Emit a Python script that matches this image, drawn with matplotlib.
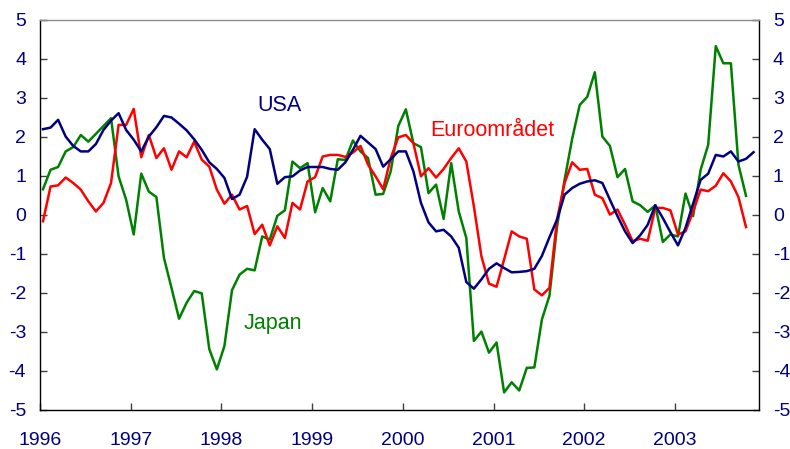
import numpy as np
import matplotlib
matplotlib.use('Agg')
import matplotlib.pyplot as plt

plt.rcParams['font.family'] = ['Liberation Sans', 'DejaVu Sans']
plt.rcParams['axes.unicode_minus'] = False

# monthly series from jan 1996
usa = [2.20, 2.24, 2.44, 2.01, 1.77, 1.63, 1.63, 1.82, 2.18, 2.42, 2.61, 2.18,
       1.93, 1.63, 2.01, 2.25, 2.54, 2.50, 2.34, 2.17, 1.94, 1.67, 1.35, 1.18,
       0.95, 0.41, 0.52, 0.98, 2.20, 1.93, 1.69, 0.80, 0.97, 0.99, 1.14, 1.23,
       1.23, 1.23, 1.18, 1.16, 1.35, 1.67, 2.03, 1.86, 1.69, 1.24, 1.43, 1.63,
       1.63, 1.12, 0.31, -0.19, -0.42, -0.38, -0.55, -0.84, -1.72, -1.89, -1.65, -1.38,
       -1.24, -1.36, -1.47, -1.46, -1.44, -1.38, -1.05, -0.57, -0.12, 0.52, 0.69, 0.80,
       0.86, 0.89, 0.82, 0.39, -0.03, -0.42, -0.72, -0.52, -0.25, 0.25, -0.08, -0.44,
       -0.78, -0.33, 0.29, 0.90, 1.06, 1.54, 1.50, 1.63, 1.37, 1.44, 1.61]

euro = [-0.16, 0.73, 0.76, 0.96, 0.82, 0.65, 0.35, 0.09, 0.31, 0.82, 2.31, 2.31,
        2.72, 1.48, 2.05, 1.46, 1.71, 1.16, 1.63, 1.48, 1.88, 1.42, 1.24, 0.65,
        0.29, 0.52, 0.14, 0.23, -0.49, -0.25, -0.78, -0.29, -0.59, 0.31, 0.14, 0.86,
        0.97, 1.50, 1.54, 1.54, 1.49, 1.60, 1.77, 1.29, 0.99, 0.66, 1.46, 1.99,
        2.05, 1.84, 0.99, 1.20, 0.96, 1.18, 1.46, 1.71, 1.37, 0.22, -1.06, -1.76,
        -1.84, -1.14, -0.42, -0.55, -0.61, -1.91, -2.06, -1.87, -0.12, 0.82, 1.35, 1.16,
        1.18, 0.52, 0.43, 0.01, 0.14, -0.25, -0.67, -0.61, -0.66, 0.18, 0.18, 0.12,
        -0.50, -0.42, 0.09, 0.65, 0.61, 0.75, 1.07, 0.86, 0.46, -0.31]

japan = [0.66, 1.16, 1.23, 1.63, 1.74, 2.05, 1.88, 2.08, 2.28, 2.48, 0.99, 0.39,
         -0.50, 1.06, 0.60, 0.46, -1.10, -1.87, -2.66, -2.25, -1.95, -2.01, -3.44, -3.96,
         -3.36, -1.93, -1.53, -1.38, -1.42, -0.55, -0.63, -0.02, 0.12, 1.37, 1.20, 1.33,
         0.07, 0.69, 0.35, 1.43, 1.41, 1.91, 1.63, 1.46, 0.52, 0.54, 1.12, 2.28,
         2.71, 1.84, 1.74, 0.56, 0.78, -0.10, 1.33, 0.09, -0.59, -3.23, -2.99, -3.53,
         -3.27, -4.55, -4.29, -4.50, -3.92, -3.91, -2.68, -2.07, -0.30, 0.90, 1.95, 2.82,
         3.03, 3.66, 2.01, 1.77, 0.97, 1.18, 0.35, 0.25, 0.08, 0.25, -0.69, -0.50,
         -0.55, 0.55, -0.03, 1.16, 1.80, 4.33, 3.89, 3.89, 1.29, 0.49]

years = [1996, 1997, 1998, 1999, 2000, 2001, 2002, 2003]

navy = '#000080'
red = '#ff0000'
green = '#008000'

def month_x(series):
    return 1996 + (np.arange(len(series)) + 0.4) / 12

fig = plt.figure(figsize=(7.9, 4.49), dpi=100)
ax = fig.add_axes([0.0506, 0.0869, 0.9102, 0.8686])

ax.plot(month_x(japan), japan, c=green, linewidth=1.8)
ax.plot(month_x(euro), euro, c=red, linewidth=1.8)
ax.plot(month_x(usa), usa, c=navy, linewidth=1.8)

ax.set_xlim(1996, 2003.927)
ax.set_ylim(-5, 5)
ax.set_xticks(years)
ax.set_xticklabels([str(y) for y in years])
ax.set_yticks(range(-5, 6))

ax.tick_params(axis='x', direction='in', length=5, width=1, pad=16,
               labelsize=14, labelcolor=navy, color='#404040')
ax.tick_params(axis='y', direction='in', length=5, width=1, pad=10,
               labelsize=14, labelcolor=navy, color='#404040',
               left=True, right=True, labelleft=True, labelright=True)

for key in ['left', 'right', 'bottom']:
    ax.spines[key].set_color('black')
    ax.spines[key].set_linewidth(1)
ax.spines['top'].set_color('#8c8c8c')
ax.spines['top'].set_linewidth(1)

ax.text(1998.4, 2.82, 'USA', color=navy, fontsize=15.5, ha='left', va='center')
ax.text(2000.3, 2.17, 'Euroområdet', color=red, fontsize=15.5, ha='left', va='center')
ax.text(1998.25, -2.77, 'Japan', color=green, fontsize=15.5, ha='left', va='center')

plt.savefig('out.png', dpi=100)
